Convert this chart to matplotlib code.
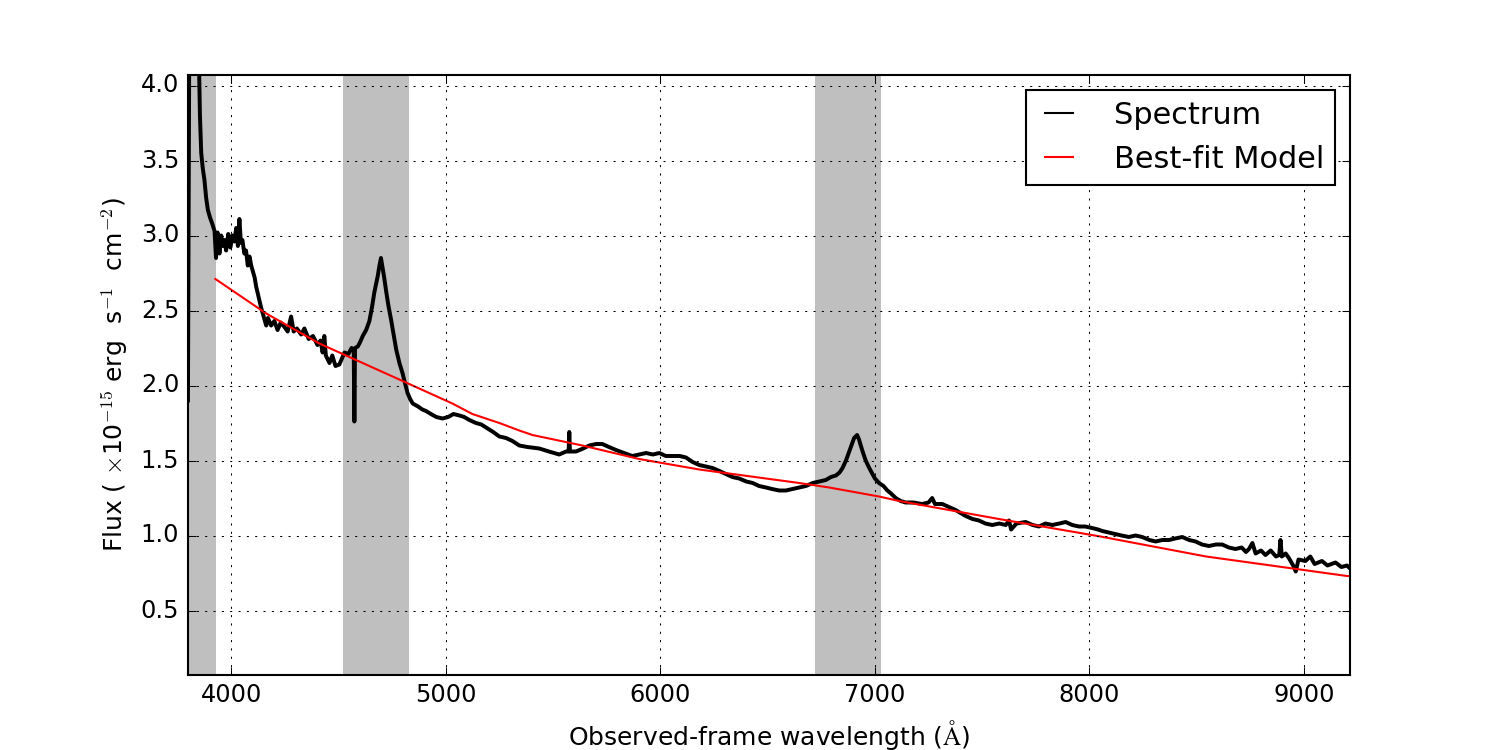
import matplotlib
matplotlib.use('Agg')
import matplotlib.pyplot as plt

plt.style.use('classic')
plt.rcParams['font.size'] = 11.5

# espectro observado (longitud de onda en A, flujo en 1e-15)
wave = [3797, 3800, 3804, 3830, 3848, 3853, 3859, 3866, 3874, 3882, 3890, 3900,
        3910, 3921, 3928, 3935, 3944, 3952, 3960, 3967, 3975, 3985, 3995, 4005,
        4014, 4022, 4030, 4037, 4044, 4051, 4060, 4068, 4076, 4084, 4092, 4100,
        4108, 4115, 4125, 4138, 4146, 4154, 4162, 4170, 4185, 4200, 4215, 4230,
        4247, 4262, 4278, 4290, 4305, 4325, 4340, 4360, 4380, 4401, 4415, 4425,
        4433, 4440, 4457, 4470, 4485, 4503, 4515, 4527, 4545, 4560, 4570, 4573,
        4576, 4589, 4600, 4612, 4628, 4643, 4655, 4666, 4675, 4682, 4690, 4697,
        4705, 4712, 4721, 4732, 4744, 4756, 4768, 4783, 4798, 4810, 4821, 4833,
        4845, 4870, 4890, 4907, 4930, 4955, 4984, 5010, 5035, 5063, 5085, 5109,
        5140, 5165, 5187, 5220, 5249, 5280, 5310, 5342, 5380, 5435, 5480, 5528,
        5560, 5572, 5575, 5578, 5606, 5640, 5668, 5700, 5729, 5760, 5793, 5830,
        5869, 5900, 5933, 5965, 5995, 6025, 6056, 6090, 6119, 6150, 6181, 6212,
        6243, 6275, 6305, 6335, 6367, 6400, 6430, 6460, 6492, 6520, 6554, 6585,
        6616, 6647, 6678, 6710, 6741, 6771, 6795, 6818, 6835, 6849, 6865, 6880,
        6892, 6903, 6917, 6926, 6934, 6945, 6957, 6970, 6981, 7000, 7019, 7040,
        7058, 7075, 7097, 7120, 7143, 7180, 7220, 7250, 7267, 7280, 7314, 7345,
        7376, 7400, 7423, 7455, 7485, 7515, 7547, 7580, 7610, 7625, 7635, 7660,
        7703, 7735, 7765, 7795, 7827, 7860, 7889, 7920, 7951, 7980, 8013, 8040,
        8060, 8090, 8122, 8150, 8184, 8215, 8246, 8280, 8309, 8340, 8371, 8400,
        8433, 8465, 8495, 8525, 8557, 8590, 8619, 8650, 8681, 8710, 8730, 8744,
        8760, 8775, 8800, 8821, 8845, 8870, 8885, 8891, 8897, 8915, 8930, 8950,
        8962, 8975, 9007, 9030, 9050, 9084, 9110, 9147, 9175, 9201, 9215]
flux = [1.90, 3.10, 4.60, 4.90, 4.20, 3.80, 3.55, 3.45, 3.37, 3.25, 3.17, 3.12,
        3.08, 3.03, 2.85, 3.02, 2.88, 3.00, 2.93, 2.97, 2.90, 3.01, 2.92, 3.00,
        2.96, 3.05, 2.93, 3.11, 2.95, 2.97, 2.88, 2.90, 2.80, 2.86, 2.80, 2.76,
        2.72, 2.66, 2.60, 2.52, 2.48, 2.44, 2.40, 2.45, 2.40, 2.43, 2.37, 2.42,
        2.39, 2.36, 2.46, 2.36, 2.38, 2.34, 2.38, 2.31, 2.33, 2.27, 2.30, 2.22,
        2.33, 2.20, 2.15, 2.20, 2.13, 2.14, 2.18, 2.22, 2.21, 2.25, 2.24, 1.76,
        2.25, 2.26, 2.29, 2.33, 2.37, 2.43, 2.52, 2.62, 2.68, 2.73, 2.80, 2.85,
        2.78, 2.72, 2.63, 2.53, 2.44, 2.34, 2.24, 2.15, 2.08, 2.01, 1.95, 1.91,
        1.88, 1.86, 1.84, 1.83, 1.81, 1.79, 1.78, 1.79, 1.81, 1.80, 1.79, 1.77,
        1.75, 1.74, 1.72, 1.69, 1.66, 1.65, 1.63, 1.60, 1.59, 1.58, 1.56, 1.54,
        1.56, 1.56, 1.69, 1.56, 1.56, 1.58, 1.60, 1.61, 1.61, 1.59, 1.57, 1.55,
        1.53, 1.54, 1.55, 1.54, 1.55, 1.53, 1.53, 1.53, 1.52, 1.49, 1.47, 1.46,
        1.45, 1.43, 1.41, 1.39, 1.38, 1.36, 1.35, 1.33, 1.32, 1.31, 1.30, 1.30,
        1.31, 1.32, 1.33, 1.35, 1.36, 1.37, 1.39, 1.40, 1.42, 1.45, 1.50, 1.56,
        1.61, 1.65, 1.67, 1.64, 1.60, 1.55, 1.50, 1.46, 1.43, 1.38, 1.35, 1.33,
        1.30, 1.28, 1.25, 1.23, 1.22, 1.22, 1.21, 1.22, 1.25, 1.21, 1.21, 1.19,
        1.17, 1.15, 1.13, 1.11, 1.10, 1.08, 1.07, 1.08, 1.07, 1.10, 1.04, 1.08,
        1.09, 1.07, 1.06, 1.08, 1.07, 1.08, 1.09, 1.07, 1.06, 1.06, 1.05, 1.04,
        1.03, 1.02, 1.01, 1.00, 0.99, 1.00, 0.99, 0.97, 0.96, 0.97, 0.97, 0.98,
        0.99, 0.97, 0.96, 0.94, 0.93, 0.94, 0.94, 0.92, 0.91, 0.92, 0.89, 0.91,
        0.95, 0.88, 0.90, 0.87, 0.90, 0.86, 0.87, 0.97, 0.86, 0.88, 0.85, 0.80,
        0.76, 0.84, 0.83, 0.86, 0.81, 0.83, 0.80, 0.82, 0.79, 0.80, 0.78]

# modelo de mejor ajuste
wave_model = [3925, 4162, 4410, 4565, 4798, 5030, 5123, 5249, 5342, 5403, 5636,
              5901, 6181, 6492, 6647, 6787, 7019, 7113, 7578, 8045, 8544, 9201, 9215]
flux_model = [2.71, 2.48, 2.28, 2.18, 2.03, 1.88, 1.81, 1.75, 1.70, 1.67, 1.60,
              1.51, 1.44, 1.38, 1.35, 1.32, 1.26, 1.23, 1.11, 0.995, 0.86, 0.73, 0.73]

# regiones enmascaradas
mask_lo = [3700, 4519, 6720]
mask_hi = [3929, 4826, 7027]

fig = plt.figure(figsize=(10, 5), dpi=150, facecolor='white')
ax = fig.add_subplot(111)

for lo, hi in zip(mask_lo, mask_hi):
    ax.axvspan(lo, hi, color='0.75', lw=0, zorder=0)

ax.plot(wave, flux, color='black', lw=1.9, label='Spectrum')
ax.plot(wave_model, flux_model, color='red', lw=1.0, label='Best-fit Model')

ax.set_xlim(3795, 9215)
ax.set_ylim(0.07, 4.07)
ax.set_xticks([4000, 5000, 6000, 7000, 8000, 9000])
ax.set_yticks([0.5, 1.0, 1.5, 2.0, 2.5, 3.0, 3.5, 4.0])
ax.grid(True)

ax.set_xlabel(r'Observed-frame wavelength ($\rm\AA$)', fontsize=12, labelpad=5)
ax.set_ylabel(r'Flux ( $\times$10$^{-15}$ erg  s$^{-1}$  cm$^{-2}$)', fontsize=12)

leg = ax.legend(loc='upper right', fontsize=14.6, handlelength=1.5,
                handletextpad=1.05, borderpad=0.35)
leg.get_lines()[0].set_linewidth(1.0)

fig.savefig('out.png', dpi=150, facecolor='white')
